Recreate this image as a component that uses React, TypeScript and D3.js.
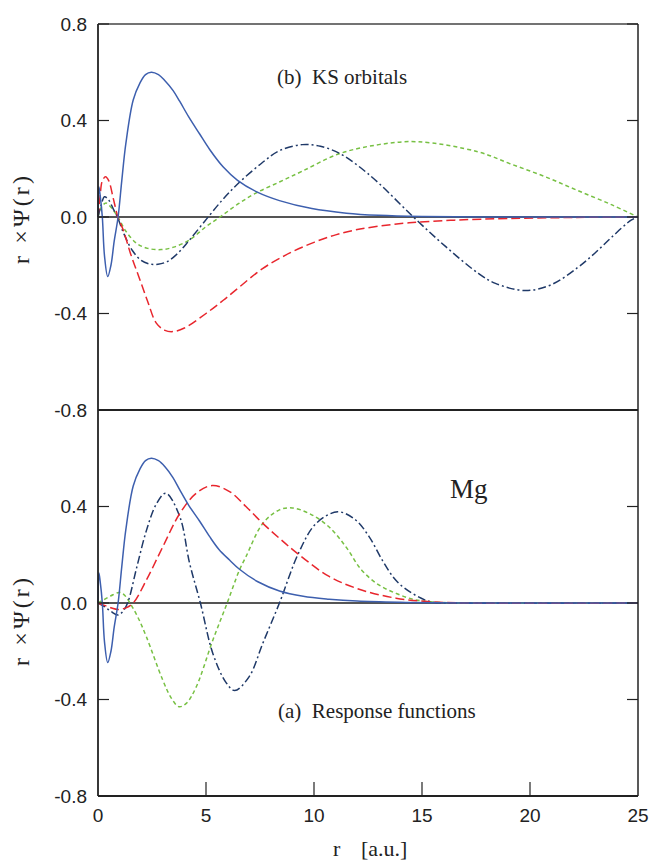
import React from "react";
import * as d3 from "d3";

// ---------- data ----------
const xTicks = [0, 5, 10, 15, 20, 25];
const yTicksTop = [0.8, 0.4, 0.0, -0.4, -0.8];
const yTicksBottom = [0.4, 0.0, -0.4, -0.8];
const yTickLabel = (v: number) => v.toFixed(1);

// (b) KS orbitals
const ksBlueR = [0, 0.04, 0.1, 0.2, 0.3, 0.45, 0.6, 0.75, 0.93, 1.1, 1.29, 1.63, 1.94, 2.2, 2.47, 2.8, 3.1, 3.47, 3.78, 4.2, 4.7, 5.17, 5.8, 6.46, 7.4, 8.4, 9.9, 11.5, 13, 15, 18, 25];
const ksBlueV = [0, 0.125, 0.09, 0, -0.16, -0.247, -0.2, -0.1, 0, 0.15, 0.305, 0.485, 0.555, 0.59, 0.6, 0.59, 0.565, 0.525, 0.48, 0.415, 0.345, 0.28, 0.207, 0.152, 0.102, 0.068, 0.035, 0.016, 0.007, 0.002, 0, 0];

const ksRedR = [0, 0.1, 0.2, 0.35, 0.5, 0.7, 0.92, 1.17, 1.5, 1.94, 2.3, 2.7, 3.1, 3.47, 4.0, 5.0, 5.8, 6.55, 7.6, 8.86, 10, 11, 11.9, 13, 14.4, 16.5, 19, 22, 25];
const ksRedV = [0, 0.09, 0.15, 0.167, 0.15, 0.08, 0, -0.054, -0.15, -0.26, -0.35, -0.44, -0.47, -0.475, -0.46, -0.4, -0.345, -0.29, -0.215, -0.15, -0.105, -0.074, -0.054, -0.038, -0.024, -0.013, -0.006, -0.002, 0];

const ksNavyR = [0, 0.15, 0.3, 0.5, 0.7, 0.9, 1.2, 1.6, 2.0, 2.4, 2.78, 3.2, 3.7, 4.24, 5.1, 5.8, 6.5, 7.6, 8.4, 9.46, 10.3, 11.16, 12, 13, 14.6, 16.1, 17.6, 18.4, 19.8, 21.0, 22.2, 23.0, 23.8, 24.7, 25];
const ksNavyV = [0, 0.05, 0.084, 0.07, 0.035, 0, -0.07, -0.14, -0.18, -0.195, -0.196, -0.185, -0.15, -0.095, 0, 0.075, 0.14, 0.225, 0.275, 0.3, 0.293, 0.265, 0.215, 0.14, 0, -0.123, -0.233, -0.275, -0.305, -0.28, -0.21, -0.15, -0.082, -0.012, 0];

const ksGreenR = [0, 0.15, 0.37, 0.6, 0.92, 1.3, 1.8, 2.3, 2.93, 3.5, 4.24, 5.0, 5.65, 6.5, 7.33, 8.4, 9.46, 11.16, 13, 14.8, 17.6, 19.1, 20.7, 22.2, 23.8, 25];
const ksGreenV = [0, 0.04, 0.058, 0.04, 0, -0.06, -0.11, -0.13, -0.135, -0.125, -0.095, -0.04, 0, 0.055, 0.1, 0.145, 0.19, 0.262, 0.3, 0.312, 0.27, 0.22, 0.167, 0.11, 0.05, 0];

// (a) Response functions
const rfBlueR = [0, 0.04, 0.1, 0.2, 0.3, 0.45, 0.6, 0.75, 0.93, 1.1, 1.29, 1.63, 1.94, 2.2, 2.47, 2.8, 3.1, 3.47, 3.78, 4.2, 4.7, 5.17, 5.6, 6.09, 6.55, 7.4, 8.4, 9.5, 10.7, 12, 14, 17, 25];
const rfBlueV = [0, 0.125, 0.09, 0, -0.16, -0.247, -0.2, -0.1, 0, 0.15, 0.305, 0.485, 0.555, 0.59, 0.6, 0.59, 0.565, 0.52, 0.47, 0.405, 0.34, 0.275, 0.222, 0.178, 0.14, 0.088, 0.05, 0.028, 0.016, 0.008, 0.003, 0, 0];

const rfRedR = [0, 0.3, 0.6, 0.92, 1.3, 1.63, 2.24, 3.0, 3.78, 4.55, 5.29, 6.09, 6.85, 7.63, 8.4, 9.17, 10.7, 12.2, 13.8, 15.4, 17, 25];
const rfRedV = [0, -0.01, -0.02, -0.027, -0.02, 0, 0.095, 0.233, 0.37, 0.455, 0.487, 0.462, 0.4, 0.33, 0.268, 0.21, 0.11, 0.054, 0.02, 0.005, 0, 0];

const rfNavyR = [0, 0.3, 0.6, 0.93, 1.15, 1.37, 1.8, 2.24, 2.7, 3.14, 3.78, 4.24, 4.74, 5.32, 5.93, 6.33, 7.0, 7.63, 8.4, 9.3, 10.1, 11.1, 11.93, 12.55, 13.16, 13.78, 14.55, 15.4, 16.5, 25];
const rfNavyV = [0, -0.015, -0.035, -0.05, -0.035, 0, 0.15, 0.3, 0.41, 0.455, 0.36, 0.165, 0, -0.21, -0.33, -0.363, -0.305, -0.167, 0, 0.21, 0.33, 0.378, 0.344, 0.275, 0.178, 0.095, 0.04, 0.005, 0, 0];

const rfGreenR = [0, 0.3, 0.6, 0.98, 1.2, 1.48, 1.85, 2.24, 3.0, 3.4, 3.75, 4.1, 4.55, 5.32, 5.98, 6.55, 6.85, 7.63, 8.4, 9.0, 9.8, 10.7, 11.5, 12.2, 13.0, 13.8, 14.6, 15.4, 17, 25];
const rfGreenV = [0, 0.015, 0.03, 0.044, 0.035, 0, -0.06, -0.14, -0.32, -0.395, -0.43, -0.415, -0.347, -0.153, 0, 0.137, 0.192, 0.33, 0.386, 0.394, 0.37, 0.315, 0.23, 0.137, 0.075, 0.04, 0.015, 0.005, 0, 0];

// ---------- styles ----------
const BLUE = "#3d5fae";
const RED = "#e8262d";
const NAVY = "#1f3968";
const GREEN = "#77c043";

const seriesStyle: Record<string, { color: string; dash: string }> = {
  blue: { color: BLUE, dash: "none" },
  red: { color: RED, dash: "9,4" },
  navy: { color: NAVY, dash: "8,3,2,3" },
  green: { color: GREEN, dash: "4,3" },
};

const L = 98, R = 638, TOP = 24, MID = 410, BOT = 796;

export default function App() {
  const x = d3.scaleLinear().domain([0, 25]).range([L, R]);
  const yTop = d3.scaleLinear().domain([-0.8, 0.8]).range([MID, TOP]);
  const yBot = d3.scaleLinear().domain([-0.8, 0.8]).range([BOT, MID]);

  const mkLine = (ys: d3.ScaleLinear<number, number>) =>
    d3.line<[number, number]>().x((d) => x(d[0])).y((d) => ys(d[1])).curve(d3.curveCatmullRom.alpha(0.5));

  const zip = (a: number[], b: number[]) => a.map((v, i) => [v, b[i]] as [number, number]);

  const topSeries = [
    { key: "green", r: ksGreenR, v: ksGreenV },
    { key: "navy", r: ksNavyR, v: ksNavyV },
    { key: "red", r: ksRedR, v: ksRedV },
    { key: "blue", r: ksBlueR, v: ksBlueV },
  ];
  const botSeries = [
    { key: "green", r: rfGreenR, v: rfGreenV },
    { key: "navy", r: rfNavyR, v: rfNavyV },
    { key: "red", r: rfRedR, v: rfRedV },
    { key: "blue", r: rfBlueR, v: rfBlueV },
  ];

  const lineTop = mkLine(yTop);
  const lineBot = mkLine(yBot);
  const tickLen = 11;
  const axisColor = "#222";
  const sans = "'Liberation Sans', Arial, Helvetica, sans-serif";
  const serif = "'Liberation Serif', 'Times New Roman', serif";

  const yTickMarks = (ys: d3.ScaleLinear<number, number>, ticks: number[], prefix: string) =>
    ticks.map((t) => (
      <g key={prefix + t}>
        <line x1={L} x2={L + tickLen} y1={ys(t)} y2={ys(t)} stroke={axisColor} strokeWidth={1.2} />
        <line x1={R - tickLen} x2={R} y1={ys(t)} y2={ys(t)} stroke={axisColor} strokeWidth={1.2} />
        <text x={87} y={ys(t)} dy="0.35em" textAnchor="end" fontFamily={sans} fontSize={19} fill="#222">
          {yTickLabel(t)}
        </text>
      </g>
    ));

  return (
    <svg width={651} height={860} style={{ position: "absolute", left: 0, top: 0, background: "#fff" }}>
      <rect x={0} y={0} width={651} height={860} fill="#fff" />
      {/* zero lines */}
      <line x1={L} x2={R} y1={yTop(0)} y2={yTop(0)} stroke="#555" strokeWidth={2} />
      <line x1={L} x2={R} y1={yBot(0)} y2={yBot(0)} stroke="#555" strokeWidth={2} />

      {/* curves */}
      {topSeries.map((s) => {
        const st = seriesStyle[s.key];
        return (
          <path key={"t" + s.key} d={lineTop(zip(s.r, s.v)) || ""} fill="none" stroke={st.color}
            strokeWidth={1.5} strokeDasharray={st.dash} />
        );
      })}
      {botSeries.map((s) => {
        const st = seriesStyle[s.key];
        return (
          <path key={"b" + s.key} d={lineBot(zip(s.r, s.v)) || ""} fill="none" stroke={st.color}
            strokeWidth={1.5} strokeDasharray={st.dash} />
        );
      })}

      {/* frame */}
      <line x1={L} x2={R} y1={TOP} y2={TOP} stroke="#444" strokeWidth={1.5} />
      <line x1={L} x2={R} y1={MID} y2={MID} stroke={axisColor} strokeWidth={1.8} />
      <line x1={L} x2={R} y1={BOT} y2={BOT} stroke={axisColor} strokeWidth={1.8} />
      <line x1={L} x2={L} y1={TOP} y2={BOT} stroke={axisColor} strokeWidth={1.8} />
      <line x1={R} x2={R} y1={TOP} y2={BOT} stroke={axisColor} strokeWidth={1.5} />

      {/* y ticks */}
      {yTickMarks(yTop, yTicksTop, "t")}
      {yTickMarks(yBot, yTicksBottom, "b")}

      {/* x ticks */}
      {xTicks.map((t) => (
        <g key={"x" + t}>
          {t > 0 && t < 25 && (
            <line x1={x(t)} x2={x(t)} y1={BOT} y2={BOT - 14} stroke={axisColor} strokeWidth={1.2} />
          )}
          <text x={x(t)} y={822} textAnchor="middle" fontFamily={sans} fontSize={19} fill="#222">
            {t}
          </text>
        </g>
      ))}

      {/* axis titles */}
      <text x={333} y={856} fontFamily={serif} fontSize={22} fill="#222">r</text>
      <text x={361} y={856} fontFamily={serif} fontSize={22} fill="#222">[a.u.]</text>

      <text transform={`translate(29,220) rotate(-90)`} textAnchor="middle" fontFamily={serif}
        fontSize={24} fill="#222" textLength={88} lengthAdjust="spacing" style={{ whiteSpace: "pre" }}>
        {"r ×Ψ(r)"}
      </text>
      <text transform={`translate(29,622) rotate(-90)`} textAnchor="middle" fontFamily={serif}
        fontSize={24} fill="#222" textLength={88} lengthAdjust="spacing" style={{ whiteSpace: "pre" }}>
        {"r ×Ψ(r)"}
      </text>

      {/* annotations */}
      <text x={277} y={84} fontFamily={serif} fontSize={21} fill="#222" style={{ whiteSpace: "pre" }}>
        {"(b)  KS orbitals"}
      </text>
      <text x={450} y={498} fontFamily={serif} fontSize={27} fill="#222">Mg</text>
      <text x={278} y={718} fontFamily={serif} fontSize={21} fill="#222" style={{ whiteSpace: "pre" }}>
        {"(a)  Response functions"}
      </text>
    </svg>
  );
}
